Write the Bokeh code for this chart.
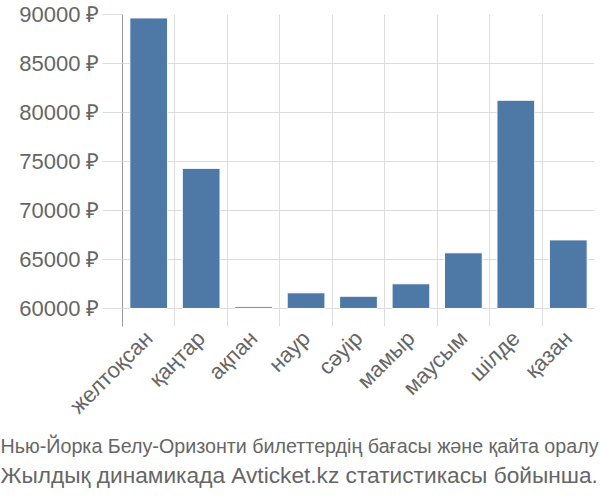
from bokeh.plotting import figure
from bokeh.models import Range1d, FixedTicker, Title
from bokeh.embed import file_html
from bokeh.resources import INLINE
import math

months = ["желтоқсан", "қаңтар", "ақпан", "наур", "сәуір", "мамыр", "маусым", "шілде", "қазан"]
prices = [89650, 74300, 60180, 61600, 61250, 62520, 65680, 81250, 67000]
y_ticks = [60000, 65000, 70000, 75000, 80000, 85000, 90000]
title_line1 = "Нью-Йорка Белу-Оризонти билеттердің бағасы және қайта оралу"
title_line2 = "Жылдық динамикада Avticket.kz статистикасы бойынша."

FONT = "Liberation Sans"
TXT = "#666666"

n = len(months)
xs = list(range(n))

p = figure(width=600, height=500, output_backend="svg", toolbar_location=None,
           x_range=Range1d(-0.5, n - 0.5), y_range=Range1d(58160, 90000),
           min_border_left=122, min_border_right=6, min_border_top=14,
           min_border_bottom=174)
p.outline_line_color = None
p.background_fill_color = "white"
p.border_fill_color = "white"

p.vbar(x=xs, top=prices, bottom=60000, width=0.72,
       fill_color="#4e79a7", line_color="#ffffff", line_width=1)

# grids
p.xgrid.ticker = FixedTicker(ticks=[i - 0.5 for i in range(n + 1)])
p.ygrid.ticker = FixedTicker(ticks=y_ticks)
p.xgrid.grid_line_color = "#dddddd"
p.ygrid.grid_line_color = "#dddddd"
p.xgrid.grid_line_width = 1
p.ygrid.grid_line_width = 1

# y axis
ya = p.yaxis[0]
ya.ticker = FixedTicker(ticks=y_ticks)
ya.major_label_overrides = {v: f"{v} ₽" for v in y_ticks}
ya.axis_line_color = "#999999"
ya.major_tick_line_color = "#dddddd"
ya.major_tick_out = 20
ya.major_tick_in = 0
ya.minor_tick_line_color = None
ya.major_label_standoff = 3
ya.major_label_text_font = FONT
ya.major_label_text_font_size = "22px"
ya.major_label_text_color = TXT

# x axis
xa = p.xaxis[0]
xa.ticker = FixedTicker(ticks=xs)
xa.major_label_overrides = {i: m for i, m in zip(xs, months)}
xa.axis_line_color = None
xa.major_tick_line_color = None
xa.minor_tick_line_color = None
xa.major_label_orientation = math.pi / 4
xa.major_label_standoff = 2
xa.major_label_text_font = FONT
xa.major_label_text_font_size = "22px"
xa.major_label_text_color = TXT

t1 = Title(text=title_line1, align="left", text_font=FONT, text_font_size="19.7px",
           text_color=TXT, text_font_style="normal", offset=-122, standoff=4)
t2 = Title(text=title_line2, align="left", text_font=FONT, text_font_size="22.7px",
           text_color=TXT, text_font_style="normal", offset=-122, standoff=2)
p.add_layout(t1, "below")
p.add_layout(t2, "below")

open("out.html", "w").write(file_html(p, INLINE))
